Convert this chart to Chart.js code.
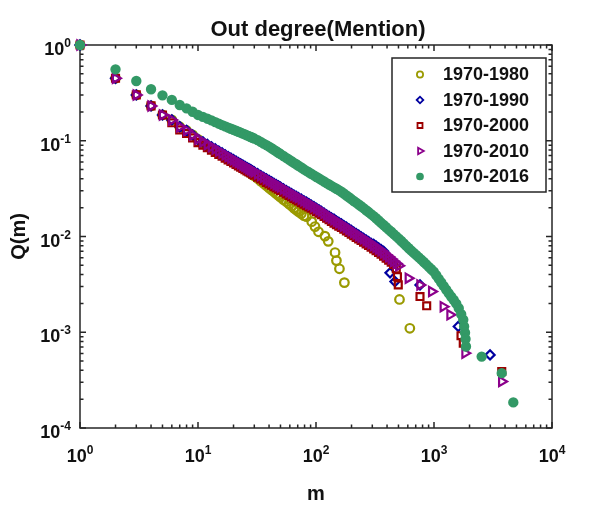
<!DOCTYPE html>
<html>
<head>
<meta charset="utf-8">
<title>Out degree(Mention)</title>
<script src="https://cdn.jsdelivr.net/npm/chart.js@4.4.0/dist/chart.umd.min.js"></script>
<style>
    html, body { margin: 0; padding: 0; background: #fff; }
    #wrap { width: 610px; height: 519px; }
</style>
</head>
<body>
<div id="wrap"><canvas id="chart" width="610" height="519"></canvas></div>
<script>
// degree values m shared by the dense part of every series
const mGrid = [1, 2, 3, 4, 5, 6, 7, 8, 9, 10,
    11, 12, 13, 14, 15, 16, 17, 18, 19, 20,
    21, 22, 23, 24, 25, 26, 27, 28, 29, 30,
    32, 34, 36, 38, 40, 42, 44, 46, 48, 50,
    53, 56, 59, 62, 65, 68, 71, 75, 79, 83,
    87, 91, 96, 101, 106, 111, 117, 123, 129, 135,
    142, 149, 156, 164, 172, 181, 190, 199, 209, 219,
    230, 241, 253, 266, 279, 293, 308, 323, 339, 356,
    374, 393, 413, 434, 456, 479, 503, 528, 554, 582,
    611, 642, 674, 708, 743, 780, 819, 860, 903, 948,
    995, 1045, 1097, 1152, 1210, 1270, 1334, 1400, 1470, 1544,
    1621, 1700]

// Q(m), one value per mGrid entry
const q1980 = [1, 0.449, 0.301, 0.231, 0.186, 0.165, 0.140, 0.128, 0.115, 0.1035,
    0.0929, 0.0873, 0.0824, 0.0781, 0.0743, 0.0710, 0.0679, 0.0652, 0.0627, 0.0604,
    0.0583, 0.0564, 0.0547, 0.0530, 0.0508, 0.0488, 0.0473, 0.0458, 0.0441, 0.0429,
    0.0404, 0.0379, 0.0359, 0.0339, 0.0321, 0.0307, 0.0293, 0.0280, 0.0269, 0.0258,
    0.0243, 0.0231, 0.0219, 0.0208, 0.0198, 0.0190, 0.0182, 0.0173, 0.0165]
const q1990 = [1, 0.449, 0.301, 0.231, 0.186, 0.165, 0.140, 0.128, 0.115, 0.1035,
    0.0975, 0.0916, 0.0865, 0.0820, 0.0780, 0.0745, 0.0713, 0.0684, 0.0658, 0.0634,
    0.0612, 0.0592, 0.0574, 0.0556, 0.0540, 0.0525, 0.0511, 0.0498, 0.0485, 0.0474,
    0.0452, 0.0433, 0.0415, 0.0399, 0.0385, 0.0372, 0.0359, 0.0348, 0.0338, 0.0328,
    0.0314, 0.0302, 0.0291, 0.0281, 0.0271, 0.0263, 0.0255, 0.0245, 0.0236, 0.0228,
    0.0220, 0.0213, 0.0205, 0.0197, 0.0190, 0.0183, 0.0175, 0.0168, 0.0162, 0.0156,
    0.0152, 0.0145, 0.0140, 0.0135, 0.0130, 0.0125, 0.0120, 0.0116, 0.0111, 0.0107,
    0.0103, 0.00993, 0.00954, 0.00917, 0.00883, 0.00848, 0.00828, 0.00795, 0.00762, 0.00730,
    0.0070]
const q2000 = [1, 0.449, 0.301, 0.231, 0.186, 0.154, 0.130, 0.119, 0.107, 0.0955,
    0.0900, 0.0845, 0.0798, 0.0757, 0.0720, 0.0688, 0.0658, 0.0631, 0.0607, 0.0585,
    0.0565, 0.0546, 0.0530, 0.0513, 0.0498, 0.0485, 0.0472, 0.0460, 0.0448, 0.0438,
    0.0417, 0.0400, 0.0383, 0.0368, 0.0355, 0.0343, 0.0331, 0.0321, 0.0312, 0.0303,
    0.0290, 0.0279, 0.0269, 0.0259, 0.0250, 0.0243, 0.0235, 0.0226, 0.0218, 0.0210,
    0.0203, 0.0197, 0.0189, 0.0182, 0.0175, 0.0169, 0.0162, 0.0155, 0.0150, 0.0144,
    0.0138, 0.0133, 0.0128, 0.0124, 0.0119, 0.0114, 0.0110, 0.0106, 0.0102, 0.00978,
    0.00941, 0.00907, 0.00872, 0.00838, 0.00807, 0.00775, 0.00742, 0.00713, 0.00683, 0.00654,
    0.00624, 0.00594, 0.00566, 0.00538, 0.00510, 0.0046]
const q2010 = [1, 0.449, 0.301, 0.231, 0.186, 0.165, 0.140, 0.128, 0.115, 0.1035,
    0.0975, 0.0916, 0.0865, 0.0820, 0.0780, 0.0745, 0.0713, 0.0684, 0.0658, 0.0634,
    0.0612, 0.0592, 0.0574, 0.0556, 0.0540, 0.0525, 0.0511, 0.0498, 0.0485, 0.0474,
    0.0452, 0.0433, 0.0415, 0.0399, 0.0385, 0.0372, 0.0359, 0.0348, 0.0338, 0.0328,
    0.0314, 0.0302, 0.0291, 0.0281, 0.0271, 0.0263, 0.0255, 0.0245, 0.0236, 0.0228,
    0.0220, 0.0213, 0.0205, 0.0197, 0.0190, 0.0183, 0.0175, 0.0168, 0.0162, 0.0156,
    0.0150, 0.0144, 0.0139, 0.0134, 0.0129, 0.0124, 0.0119, 0.0115, 0.0110, 0.0106,
    0.0102, 0.00983, 0.00945, 0.00908, 0.00874, 0.00840, 0.00804, 0.00772, 0.00740, 0.00709,
    0.00676, 0.00644, 0.00613, 0.00583, 0.00552, 0.00523, 0.00495]
const q2016 = [1, 0.557, 0.421, 0.345, 0.298, 0.267, 0.236, 0.218, 0.201, 0.186,
    0.1775, 0.1700, 0.1631, 0.1565, 0.1507, 0.1455, 0.1412, 0.1372, 0.1335, 0.1301,
    0.1270, 0.1241, 0.1214, 0.1188, 0.1164, 0.1139, 0.1116, 0.1094, 0.1073, 0.1054,
    0.1015, 0.0972, 0.0934, 0.0900, 0.0868, 0.0834, 0.0804, 0.0776, 0.0750, 0.0726,
    0.0693, 0.0663, 0.0636, 0.0611, 0.0588, 0.0568, 0.0548, 0.0525, 0.0503, 0.0485,
    0.0468, 0.0452, 0.0435, 0.0418, 0.0404, 0.0390, 0.0375, 0.0361, 0.0349, 0.0338,
    0.0326, 0.0315, 0.0305, 0.0293, 0.0281, 0.0268, 0.0257, 0.0246, 0.0235, 0.0226,
    0.0216, 0.0207, 0.0198, 0.0188, 0.0180, 0.0171, 0.0163, 0.0155, 0.0147, 0.0139,
    0.0132, 0.0125, 0.0118, 0.0112, 0.0106, 0.01004, 0.00951, 0.00897, 0.00847, 0.00798,
    0.00753, 0.00711, 0.00674, 0.00638, 0.00605, 0.00574, 0.00542, 0.00511, 0.00482, 0.00455,
    0.00429, 0.00394, 0.00361, 0.00331, 0.00303, 0.00278, 0.00255, 0.00235, 0.00217, 0.00199,
    0.00178, 0.00154]

// sparse tail points of each series
const tailM1980 = [83, 92, 98, 105, 119, 127, 145, 149, 158, 174, 510, 624]
const tailQ1980 = [0.0161, 0.0143, 0.0127, 0.0112, 0.0101, 0.0089, 0.0068, 0.0056, 0.0046, 0.0033, 0.0022, 0.0011]
const tailM1990 = [424, 467, 761, 1607, 2985]
const tailQ1990 = [0.00417, 0.00338, 0.00312, 0.00115, 0.00058]
const tailM2000 = [490, 498, 761, 867, 1694, 1770, 3750]
const tailQ2000 = [0.0038, 0.00312, 0.00236, 0.00189, 0.00092, 0.00077, 0.000389]
const tailM2010 = [606, 761, 956, 1199, 1367, 1832, 3750]
const tailQ2010 = [0.00367, 0.00312, 0.00266, 0.00185, 0.00152, 0.000605, 0.000306]
const tailM2016 = [1770, 1800, 1832, 1850, 1866, 2535, 3750, 4700]
const tailQ2016 = [0.00135, 0.00115, 0.00099, 0.00085, 0.00071, 0.000557, 0.000374, 0.000185]

const seriesLabels = ["1970-1980", "1970-1990", "1970-2000", "1970-2010", "1970-2016"]
const xTickExponents = [0, 1, 2, 3, 4]
const yTickExponents = [-4, -3, -2, -1, 0]

const FONT = '"Liberation Sans", Arial, Helvetica, sans-serif'
const INK = "#262626"

function buildPoints(qs, tailM, tailQ) {
    const pts = []
    qs.forEach((q, i) => pts.push({ x: mGrid[i], y: q }))
    tailM.forEach((m, i) => pts.push({ x: m, y: tailQ[i] }))
    return pts
}

function marker(label, data, style, color, fill, radius, rotation, order) {
    return {
        label: label,
        data: data,
        showLine: false,
        pointStyle: style,
        pointRadius: radius,
        pointRotation: rotation,
        pointBorderWidth: 2.2,
        pointBorderColor: color,
        pointBackgroundColor: fill,
        borderColor: color,
        backgroundColor: fill,
        clip: false,
        order: order
    }
}

// later series are painted on top, like the original plot
const datasets = [
    marker(seriesLabels[0], buildPoints(q1980, tailM1980, tailQ1980), "circle", "#9a9a00", "rgba(0,0,0,0)", 4.3, 0, 5),
    marker(seriesLabels[1], buildPoints(q1990, tailM1990, tailQ1990), "rectRot", "#0000a0", "rgba(0,0,0,0)", 4.6, 0, 4),
    marker(seriesLabels[2], buildPoints(q2000, tailM2000, tailQ2000), "rect", "#9c0000", "rgba(0,0,0,0)", 4.9, 0, 3),
    marker(seriesLabels[3], buildPoints(q2010, tailM2010, tailQ2010), "triangle", "#8b008b", "rgba(0,0,0,0)", 5.3, 90, 2),
    marker(seriesLabels[4], buildPoints(q2016, tailM2016, tailQ2016), "circle", "#339966", "#339966", 4.1, 0, 1)
]

// "10" with a raised exponent
function drawPower(ctx, exponent, x, y, align) {
    ctx.font = "bold 18px " + FONT
    const wBase = ctx.measureText("10").width
    ctx.font = "bold 12px " + FONT
    const wExp = ctx.measureText(exponent).width
    const total = wBase + wExp
    const start = align === "right" ? x - total : x - total / 2
    ctx.textAlign = "left"
    ctx.textBaseline = "alphabetic"
    ctx.font = "bold 18px " + FONT
    ctx.fillText("10", start, y)
    ctx.font = "bold 12px " + FONT
    ctx.fillText(exponent, start + wBase, y - 8)
}

const axesPlugin = {
    id: "boxAxes",
    beforeDatasetsDraw(chart) {
        const { ctx, chartArea: a } = chart
        const xs = chart.scales.x
        const ys = chart.scales.y
        ctx.save()
        ctx.strokeStyle = INK
        ctx.lineWidth = 1.5
        ctx.strokeRect(a.left, a.top, a.right - a.left, a.bottom - a.top)

        ctx.beginPath()
        for (let i = 0; i < xTickExponents.length; i++) {
            const e = xTickExponents[i]
            const px = xs.getPixelForValue(Math.pow(10, e))
            ctx.moveTo(px, a.bottom); ctx.lineTo(px, a.bottom - 6)
            ctx.moveTo(px, a.top); ctx.lineTo(px, a.top + 6)
            if (i < xTickExponents.length - 1) {
                for (let k = 2; k <= 9; k++) {
                    const mx = xs.getPixelForValue(k * Math.pow(10, e))
                    ctx.moveTo(mx, a.bottom); ctx.lineTo(mx, a.bottom - 3.5)
                    ctx.moveTo(mx, a.top); ctx.lineTo(mx, a.top + 3.5)
                }
            }
        }
        for (let i = 0; i < yTickExponents.length; i++) {
            const e = yTickExponents[i]
            const py = ys.getPixelForValue(Math.pow(10, e))
            ctx.moveTo(a.left, py); ctx.lineTo(a.left + 6, py)
            ctx.moveTo(a.right, py); ctx.lineTo(a.right - 6, py)
            if (i < yTickExponents.length - 1) {
                for (let k = 2; k <= 9; k++) {
                    const my = ys.getPixelForValue(k * Math.pow(10, e))
                    ctx.moveTo(a.left, my); ctx.lineTo(a.left + 3.5, my)
                    ctx.moveTo(a.right, my); ctx.lineTo(a.right - 3.5, my)
                }
            }
        }
        ctx.stroke()
        ctx.restore()
    },
    afterDatasetsDraw(chart) {
        // legend box inside the plot, upper right
        const { ctx } = chart
        ctx.save()
        ctx.fillStyle = "#fff"
        ctx.fillRect(392, 58, 154, 134)
        ctx.strokeStyle = INK
        ctx.lineWidth = 1.5
        ctx.strokeRect(392, 58, 154, 134)
        chart.data.datasets.forEach((ds, i) => {
            const yRow = 74.5 + i * 25.5
            ctx.fillStyle = ds.pointBackgroundColor
            ctx.strokeStyle = ds.pointBorderColor
            ctx.lineWidth = 1.8
            Chart.helpers.drawPoint(ctx, {
                pointStyle: ds.pointStyle,
                radius: ds.pointRadius * 0.72,
                rotation: ds.pointRotation,
                borderWidth: 1.8
            }, 420, yRow)
            ctx.fillStyle = "#111"
            ctx.font = "bold 18px " + FONT
            ctx.textAlign = "left"
            ctx.textBaseline = "middle"
            ctx.fillText(ds.label, 443, yRow + 1)
        })
        ctx.restore()
    },
    afterDraw(chart) {
        const { ctx, chartArea: a } = chart
        const xs = chart.scales.x
        const ys = chart.scales.y
        ctx.save()
        ctx.fillStyle = "#111"
        xTickExponents.forEach(e => {
            drawPower(ctx, String(e), xs.getPixelForValue(Math.pow(10, e)), 462, "center")
        })
        yTickExponents.forEach(e => {
            drawPower(ctx, String(e), 71, ys.getPixelForValue(Math.pow(10, e)) + 10, "right")
        })

        ctx.textAlign = "center"
        ctx.textBaseline = "alphabetic"
        ctx.font = "bold 22px " + FONT
        ctx.fillText("Out degree(Mention)", (a.left + a.right) / 2 + 2, 36)
        ctx.font = "bold 20px " + FONT
        ctx.fillText("m", (a.left + a.right) / 2, 500)

        ctx.translate(25, (a.top + a.bottom) / 2)
        ctx.rotate(-Math.PI / 2)
        ctx.fillText("Q(m)", 0, 0)
        ctx.restore()
    }
}

new Chart(document.getElementById("chart"), {
    type: "scatter",
    data: { datasets: datasets },
    options: {
        responsive: false,
        animation: false,
        events: [],
        layout: { padding: { left: 80, right: 58, top: 45, bottom: 91 } },
        scales: {
            x: { type: "logarithmic", min: 1, max: 10000, display: false },
            y: { type: "logarithmic", min: 0.0001, max: 1, display: false }
        },
        plugins: {
            legend: { display: false },
            tooltip: { enabled: false },
            title: { display: false }
        }
    },
    plugins: [axesPlugin]
})
</script>
</body>
</html>
